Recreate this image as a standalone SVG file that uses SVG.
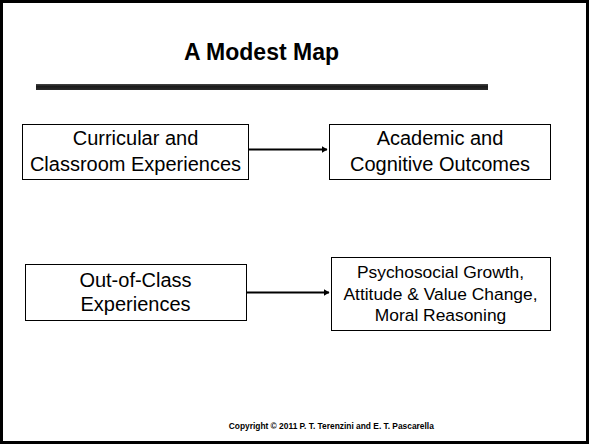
<svg xmlns="http://www.w3.org/2000/svg" width="589" height="444" viewBox="0 0 589 444">
  <style>
    .box { fill: #ffffff; stroke: #000000; stroke-width: 1; }
    .t { font-family: "Liberation Sans", Arial, sans-serif; fill: #000000; text-anchor: middle; }
    .n { font-size: 20px; }
    .s { font-size: 17.4px; }
    .conn { stroke: #000000; stroke-width: 2; fill: none; }
  </style>
  <defs>
    <marker id="arrow" markerWidth="6" markerHeight="7" refX="5.5" refY="3.5" orient="auto" markerUnits="userSpaceOnUse">
      <path d="M0,0 L6,3.5 L0,7 Z" fill="#000000"/>
    </marker>
    <linearGradient id="bar" x1="0" y1="0" x2="0" y2="1">
      <stop offset="0" stop-color="#444444"/>
      <stop offset="0.4" stop-color="#1a1a1a"/>
      <stop offset="1" stop-color="#2a2a2a"/>
    </linearGradient>
  </defs>
  <rect x="0" y="0" width="589" height="444" fill="#ffffff"/>
  <rect x="1.5" y="1.5" width="586" height="441" fill="none" stroke="#000000" stroke-width="3"/>

  <g id="title">
    <text class="t" x="261.5" y="60" font-size="23" font-weight="bold">A Modest Map</text>
    <rect x="36" y="84" width="452" height="6" fill="url(#bar)"/>
  </g>

  <g id="curricular">
    <rect class="box" x="22.5" y="124.5" width="226" height="55"/>
    <text class="t n" x="135.5" y="145">Curricular and</text>
    <text class="t n" x="135.5" y="171">Classroom Experiences</text>
  </g>

  <g id="academic">
    <rect class="box" x="329.5" y="124.5" width="221" height="55"/>
    <text class="t n" x="440" y="145">Academic and</text>
    <text class="t n" x="440" y="171">Cognitive Outcomes</text>
  </g>

  <g id="outofclass">
    <rect class="box" x="25.5" y="264.5" width="221" height="56"/>
    <text class="t n" x="135.5" y="287">Out-of-Class</text>
    <text class="t n" x="135.5" y="311">Experiences</text>
  </g>

  <g id="psychosocial">
    <rect class="box" x="331.5" y="257.5" width="219" height="73"/>
    <text class="t s" x="440.5" y="278">Psychosocial Growth,</text>
    <text class="t s" x="440.5" y="299.5">Attitude &amp; Value Change,</text>
    <text class="t s" x="440.5" y="321">Moral Reasoning</text>
  </g>

  <g id="connectors">
    <line class="conn" x1="249" y1="149.5" x2="327" y2="149.5" marker-end="url(#arrow)"/>
    <line class="conn" x1="247" y1="292.5" x2="329" y2="292.5" marker-end="url(#arrow)"/>
  </g>

  <g id="footer">
    <text class="t" x="331.3" y="429" font-size="8.4" font-weight="bold">Copyright © 2011 P. T. Terenzini and E. T. Pascarella</text>
  </g>
</svg>
